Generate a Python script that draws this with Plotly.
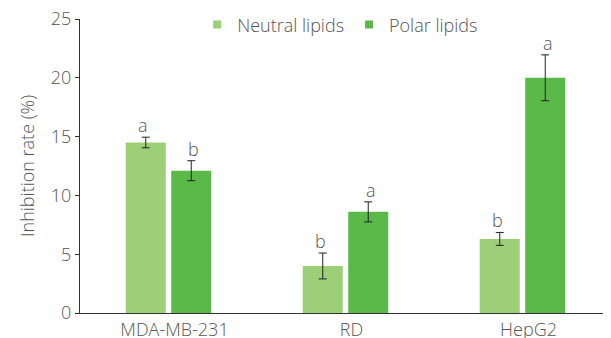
import plotly.graph_objects as go

categories = ["MDA-MB-231", "RD", "HepG2"]
neutral = [14.5, 4.0, 6.3]
neutral_err = [0.45, 1.1, 0.55]
neutral_letters = ["a", "b", "b"]
polar = [12.1, 8.6, 20.0]
polar_err = [0.85, 0.85, 1.95]
polar_letters = ["b", "a", "a"]
y_ticks = [0, 5, 10, 15, 20, 25]

FONT = "Open Sans"
TXT = "#555555"
FS = 18
W = 300
C_NEUTRAL = "#9dcf78"
C_POLAR = "#5bb94a"


def f(size=FS):
    return dict(family=FONT, size=size, color=TXT, weight=W)


fig = go.Figure()
fig.add_trace(go.Bar(
    name="Neutral lipids", x=categories, y=neutral, showlegend=False,
    marker=dict(color=C_NEUTRAL, line=dict(width=0)),
    error_y=dict(type="data", array=neutral_err, color="#222", thickness=1, width=4),
))
fig.add_trace(go.Bar(
    name="Polar lipids", x=categories, y=polar, showlegend=False,
    marker=dict(color=C_POLAR, line=dict(width=0)),
    error_y=dict(type="data", array=polar_err, color="#222", thickness=1, width=4),
))
# legend entries with small square markers
for name, col in [("Neutral lipids", C_NEUTRAL), ("Polar lipids", C_POLAR)]:
    fig.add_trace(go.Scatter(x=[None], y=[None], mode="markers", name=name,
                             marker=dict(symbol="square", size=8, color=col)))

off = 0.144
for i in range(len(categories)):
    fig.add_annotation(x=i - off, y=neutral[i] + neutral_err[i], text=neutral_letters[i],
                       showarrow=False, yanchor="bottom", yshift=-2, font=f())
    fig.add_annotation(x=i + off, y=polar[i] + polar_err[i], text=polar_letters[i],
                       showarrow=False, yanchor="bottom", yshift=-2, font=f())

fig.update_layout(
    width=603, height=330,
    margin=dict(l=72, r=0, t=11, b=25, autoexpand=False),
    plot_bgcolor="white", paper_bgcolor="white",
    barmode="group", bargap=0.486, bargroupgap=0.12,
    font=f(),
    legend=dict(orientation="h", x=0.49, xanchor="center", y=0.98, yanchor="middle",
                font=f(), traceorder="normal", itemwidth=30,
                bgcolor="rgba(0,0,0,0)"),
    xaxis=dict(showline=True, linecolor="#333", linewidth=1, ticks="", showgrid=False,
               tickfont=f(), range=[-0.5, 2.5], automargin=False,
               ticklabeloverflow="allow", ticklabelshift=6),
    yaxis=dict(showline=True, linecolor="#333", linewidth=1, ticks="outside", ticklen=4,
               tickcolor="#333", range=[0, 25], tickvals=y_ticks, showgrid=False,
               zeroline=False, tickfont=f(), automargin=False,
               ticklabeloverflow="allow",
               title=dict(text="Inhibition rate (%)", font=f(), standoff=11)),
)

fig.write_html("out.html")
